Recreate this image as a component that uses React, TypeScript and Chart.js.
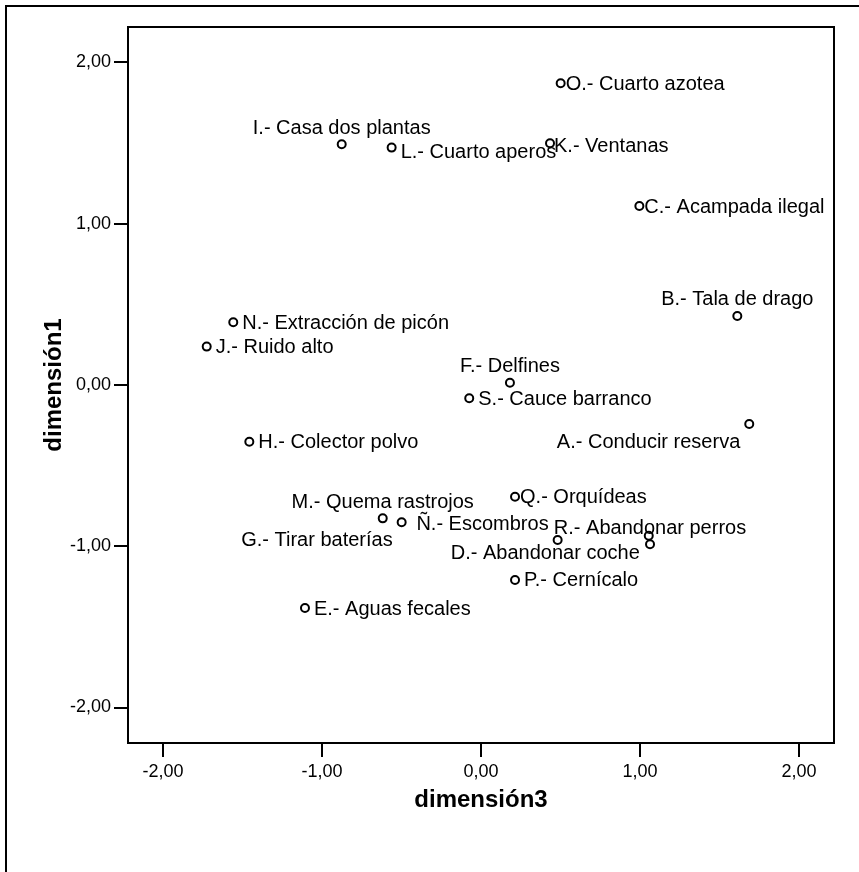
import React, { useEffect, useRef } from 'react';
import { Chart, registerables } from 'chart.js';

Chart.register(...registerables);

// ---- Data ----
const categories = [
  'A.- Conducir reserva',
  'B.- Tala de drago',
  'C.- Acampada ilegal',
  'D.- Abandonar coche',
  'E.- Aguas fecales',
  'F.- Delfines',
  'G.- Tirar baterías',
  'H.- Colector polvo',
  'I.- Casa dos plantas',
  'J.- Ruido alto',
  'K.- Ventanas',
  'L.- Cuarto aperos',
  'M.- Quema rastrojos',
  'N.- Extracción de picón',
  'Ñ.- Escombros',
  'O.- Cuarto azotea',
  'P.- Cernícalo',
  'Q.- Orquídeas',
  'R.- Abandonar perros',
  'S.- Cauce barranco',
];

// dimensión3 (horizontal axis)
const dimension3 = [
  1.687, 1.612, 0.996, 1.055, -1.107, 0.182, -0.499, -1.457, -0.876, -1.725,
  0.434, -0.562, -0.618, -1.558, 0.482, 0.501, 0.214, 0.214, 1.063, -0.074,
];

// dimensión1 (vertical axis)
const dimension1 = [
  -0.242, 0.428, 1.11, -0.935, -1.383, 0.014, -0.851, -0.352, 1.493, 0.238,
  1.499, 1.472, -0.827, 0.389, -0.961, 1.871, -1.209, -0.693, -0.988, -0.082,
];

const tickValues = [-2, -1, 0, 1, 2];
const axisMin = -2.22;
const axisMax = 2.22;

const xTitle = 'dimensión3';
const yTitle = 'dimensión1';

// label placement codes (style only)
const labelPlacement = [
  'bl', 'a', 'rn', 'bl', 'r', 'a', 'bl', 'r', 'a', 'r',
  'rk', 'rd', 'a', 'r', 'al', 'rn', 'r', 'rn', 'a', 'r',
];

const FONT = '"Liberation Sans", Arial, Helvetica, sans-serif';

const placementStyle: Record<string, { dx: number; dy: number; align: CanvasTextAlign }> = {
  r: { dx: 9, dy: 1, align: 'left' },
  rn: { dx: 5, dy: 1, align: 'left' },
  rk: { dx: 4, dy: 3, align: 'left' },
  rd: { dx: 9, dy: 5, align: 'left' },
  a: { dx: 0, dy: -16, align: 'center' },
  bl: { dx: -9, dy: 18, align: 'right' },
  al: { dx: -9, dy: -15, align: 'right' },
};

const fmt = (v: number) => (Math.round(v * 100) / 100).toFixed(2).replace('.', ',');

const framePlugin = {
  id: 'frameAndLabels',
  beforeDraw(chart: any) {
    const { ctx } = chart;
    ctx.save();
    ctx.fillStyle = '#ffffff';
    ctx.fillRect(0, 0, chart.width, chart.height);
    ctx.restore();
  },
  afterDatasetsDraw(chart: any) {
    const { ctx } = chart;
    const meta = chart.getDatasetMeta(0);
    ctx.save();
    ctx.fillStyle = '#000000';
    ctx.font = `20px ${FONT}`;
    ctx.textBaseline = 'middle';
    meta.data.forEach((pt: any, i: number) => {
      const st = placementStyle[labelPlacement[i]] || placementStyle.r;
      ctx.textAlign = st.align;
      ctx.fillText(categories[i], pt.x + st.dx, pt.y + st.dy);
    });
    ctx.restore();
  },
  afterDraw(chart: any) {
    const { ctx, chartArea: ca } = chart;
    ctx.save();
    ctx.strokeStyle = '#000000';
    ctx.lineWidth = 2;
    ctx.strokeRect(ca.left, ca.top, ca.right - ca.left, ca.bottom - ca.top);
    ctx.beginPath();
    ctx.moveTo(6, chart.height + 4);
    ctx.lineTo(6, 6);
    ctx.lineTo(chart.width + 4, 6);
    ctx.stroke();
    ctx.restore();
  },
};

export default function App() {
  const canvasRef = useRef<HTMLCanvasElement | null>(null);

  useEffect(() => {
    document.body.style.margin = '0';
    const canvas = canvasRef.current;
    if (!canvas) return;
    const points = dimension3.map((x, i) => ({ x, y: dimension1[i] }));

    const chart = new Chart(canvas, {
      type: 'scatter',
      data: {
        datasets: [
          {
            data: points,
            pointRadius: 4,
            pointHoverRadius: 4,
            pointBorderWidth: 2,
            borderColor: '#000000',
            backgroundColor: 'rgba(0,0,0,0)',
            pointBackgroundColor: 'rgba(0,0,0,0)',
            pointBorderColor: '#000000',
          },
        ],
      },
      options: {
        responsive: false,
        animation: false,
        devicePixelRatio: 1,
        events: [],
        layout: { padding: { left: 0, top: 27, right: 25, bottom: 0 } },
        plugins: {
          legend: { display: false },
          tooltip: { enabled: false },
        },
        scales: {
          x: {
            type: 'linear',
            position: 'bottom',
            min: axisMin,
            max: axisMax,
            afterBuildTicks: (axis: any) => {
              axis.ticks = tickValues.map((v) => ({ value: v }));
            },
            afterFit: (axis: any) => {
              axis.height = 129;
            },
            border: { display: false },
            grid: {
              drawOnChartArea: false,
              drawTicks: true,
              tickLength: 14,
              color: '#000000',
              lineWidth: 2,
            },
            ticks: {
              padding: 4,
              color: '#000000',
              maxRotation: 0,
              minRotation: 0,
              autoSkip: false,
              font: { family: FONT, size: 18 },
              callback: (v: any) => fmt(Number(v)),
            },
            title: {
              display: true,
              text: xTitle,
              color: '#000000',
              font: { family: FONT, size: 24, weight: 'bold' },
              padding: { top: 0, bottom: 57 },
            },
          },
          y: {
            type: 'linear',
            position: 'left',
            min: axisMin,
            max: axisMax,
            afterBuildTicks: (axis: any) => {
              axis.ticks = tickValues.map((v) => ({ value: v }));
            },
            afterFit: (axis: any) => {
              axis.width = 128;
            },
            border: { display: false },
            grid: {
              drawOnChartArea: false,
              drawTicks: true,
              tickLength: 14,
              color: '#000000',
              lineWidth: 2,
            },
            ticks: {
              padding: 3,
              color: '#000000',
              autoSkip: false,
              font: { family: FONT, size: 18 },
              callback: (v: any) => fmt(Number(v)),
            },
            title: {
              display: true,
              text: yTitle,
              color: '#000000',
              font: { family: FONT, size: 24, weight: 'bold' },
              padding: { top: 40, bottom: 0 },
            },
          },
        },
      },
      plugins: [framePlugin],
    } as any);

    return () => {
      chart.destroy();
    };
  }, []);

  return (
    <div style={{ width: 859, height: 872, position: 'relative', background: '#fff' }}>
      <canvas ref={canvasRef} width={859} height={872} style={{ display: 'block' }} />
    </div>
  );
}
